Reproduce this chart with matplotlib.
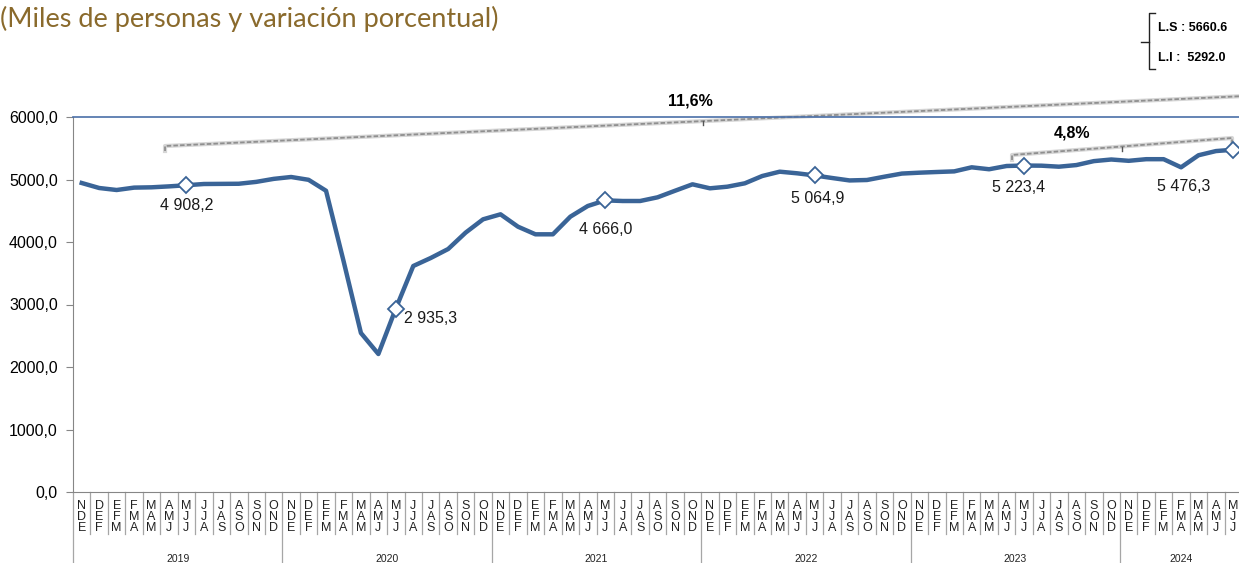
import matplotlib.pyplot as plt
from matplotlib.lines import Line2D
from matplotlib.transforms import blended_transform_factory

trimestres = ["NDE", "DEF", "EFM", "FMA", "MAM", "AMJ",
              "MJJ", "JJA", "JAS", "ASO", "SON", "OND"]
years = ["2019", "2020", "2021", "2022", "2023", "2024"]
n_per_year = [12, 12, 12, 12, 12, 7]

ocupados = [
    4944, 4864, 4832, 4870, 4875, 4890, 4908.2, 4928, 4930, 4932, 4962, 5010,
    5040, 4995, 4820, 3700, 2544, 2208, 2935.3, 3616, 3744, 3888, 4150, 4363,
    4443, 4245, 4123, 4123, 4405, 4576, 4666.0, 4656, 4656, 4715, 4820, 4923,
    4859, 4885, 4939, 5056, 5125, 5099, 5064.9, 5024, 4985, 4992, 5045, 5095,
    5109, 5120, 5130, 5195, 5164, 5216, 5223.4, 5221, 5205, 5231, 5294, 5320,
    5299, 5325, 5325, 5195, 5388, 5455, 5476.3,
]
marked_idx = [6, 18, 30, 42, 54, 66]
marked_labels = ["4 908,2", "2 935,3", "4 666,0", "5 064,9", "5 223,4", "5 476,3"]
label_offsets = [(0, -20), (8, -10), (0, -29), (3, -23), (-5, -22), (-50, -37)]
label_ha = ["center", "left", "center", "center", "center", "center"]

yticks = [0, 1000, 2000, 3000, 4000, 5000, 6000]
ytick_labels = ["0,0", "1000,0", "2000,0", "3000,0", "4000,0", "5000,0", "6000,0"]

W, H = 1239, 563
BLUE = "#3a6497"
GRAY = "#a6a6a6"


def main():
    plt.rcParams["font.family"] = ["Liberation Sans", "DejaVu Sans"]
    fig = plt.figure(figsize=(W / 100, H / 100), dpi=100)

    left, bottom_px, top_px, step = 73, 492, 117, 17.45
    n = len(ocupados)
    ax = fig.add_axes([left / W, 1 - bottom_px / H,
                       n * step / W, (bottom_px - top_px) / H])

    x = list(range(n))
    ax.plot(x, ocupados, color=BLUE, lw=3.2, solid_joinstyle="round", zorder=3)
    ax.plot(marked_idx, [ocupados[i] for i in marked_idx], ls="none",
            marker="D", ms=8, mfc="white", mec=BLUE, mew=1.3, zorder=4)
    for i, lab, off, ha in zip(marked_idx, marked_labels, label_offsets, label_ha):
        ax.annotate(lab, (i, ocupados[i]), xytext=off, textcoords="offset pixels",
                    ha=ha, va="center", fontsize=11.5, color="#1a1a1a")

    ax.set_xlim(-0.5, n - 0.5)
    ax.set_ylim(0, 6000)
    ax.set_yticks(yticks)
    ax.set_yticklabels(ytick_labels, fontsize=11.5)
    ax.set_xticks([])
    ax.tick_params(axis="y", length=5, color="#868686", pad=6)
    ax.spines["right"].set_visible(False)
    ax.spines["left"].set_color("#868686")
    ax.spines["bottom"].set_color("#868686")
    ax.spines["top"].set_color("#4a6fa8")
    ax.spines["top"].set_linewidth(1.2)

    # category area under the axis
    def ay(py):
        return (bottom_px - py) / (bottom_px - top_px)

    tr = blended_transform_factory(ax.transData, ax.transAxes)
    year_starts = [sum(n_per_year[:k]) for k in range(len(n_per_year) + 1)]
    for b in range(n + 1):
        end = ay(570) if b in year_starts else ay(534)
        ax.add_line(Line2D([b - 0.5, b - 0.5], [0, end], transform=tr,
                           color=GRAY, lw=0.9, clip_on=False))
    for i in range(n):
        q = trimestres[i % 12]
        for r, ch in enumerate(q):
            ax.text(i, ay(506 + 11 * r), ch, transform=tr, ha="center",
                    va="center", fontsize=9, color="#222222", clip_on=False)
    for k, yr in enumerate(years):
        mid = (year_starts[k] + year_starts[k + 1] - 1) / 2
        ax.text(mid, ay(559), yr, transform=tr, ha="center", va="center",
                fontsize=7.5, color="#222222", clip_on=False)

    # variation brackets (pixel positions -> data)
    def dx(px):
        return (px - 81.7) / step

    def dy(py):
        return (bottom_px - py) * 6000 / (bottom_px - top_px)

    def bracket(pts, mid_x, mid_y):
        xs = [dx(p[0]) for p in pts]
        ys = [dy(p[1]) for p in pts]
        ax.plot(xs, ys, color="#d6d6d6", lw=3.0, clip_on=False, zorder=2)
        ax.plot(xs, ys, color="#8f8f8f", lw=1.3, ls=(0, (2.5, 1.2)),
                clip_on=False, zorder=2)
        ax.plot([dx(mid_x), dx(mid_x)], [dy(mid_y), dy(mid_y + 4)],
                color="#555555", lw=1, clip_on=False, zorder=2)

    bracket([(165, 151), (165, 146), (1245, 96)], 703, 121)
    bracket([(1012, 160), (1012, 155), (1232, 138), (1232, 144)], 1122, 147)
    ax.text(dx(690), dy(101), "11,6%", ha="center", va="center",
            fontsize=11.5, fontweight="bold", clip_on=False)
    ax.text(dx(1072), dy(133), "4,8%", ha="center", va="center",
            fontsize=11.5, fontweight="bold", clip_on=False)

    # title and limits box
    fig.text(0, 1 - 19 / H, "(Miles de personas y variación porcentual)",
             ha="left", va="center", fontsize=19.5, color="#8a6a2c",
             family=["Lato", "DejaVu Sans"])

    def fl(xs, ys):
        fig.add_artist(Line2D([v / W for v in xs], [1 - v / H for v in ys],
                              color="#222222", lw=1))

    fl([1155, 1149, 1149, 1155], [13, 13, 69, 69])
    fl([1141, 1149], [42, 42])
    fig.text(1158 / W, 1 - 28 / H, "L.S : 5660.6", ha="left", va="center",
             fontsize=9, fontweight="bold")
    fig.text(1158 / W, 1 - 58 / H, "L.I :  5292.0", ha="left", va="center",
             fontsize=9, fontweight="bold")

    fig.savefig("out.png", dpi=100)


if __name__ == "__main__":
    main()
